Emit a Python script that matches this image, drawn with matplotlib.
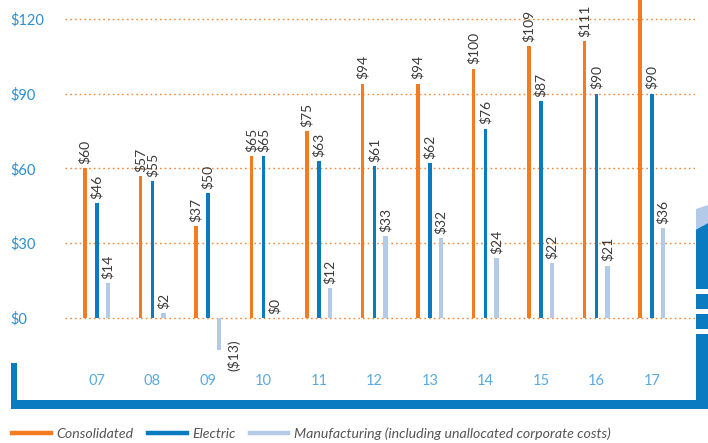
import matplotlib
matplotlib.use("Agg")
import matplotlib.pyplot as plt
from matplotlib.lines import Line2D
from matplotlib.patches import Rectangle, Polygon
import numpy as np

years = ["07", "08", "09", "10", "11", "12", "13", "14", "15", "16", "17"]
consolidated = [60, 57, 37, 65, 75, 94, 94, 100, 109, 111, 136]
electric = [46, 55, 50, 65, 63, 61, 62, 76, 87, 90, 90]
manufacturing = [14, 2, -13, 0, 12, 33, 32, 24, 22, 21, 36]
yticks = [0, 30, 60, 90, 120]
ytick_labels = ["$0", "$30", "$60", "$90", "$120"]
series_names = ["Consolidated", "Electric",
                "Manufacturing (including unallocated corporate costs)"]

ORANGE = "#f47b20"
BLUE = "#0a7bc1"
LIGHT = "#b3cae8"
TXT = "#3a3a3a"
YLAB = "#2b8ed3"
XLAB = "#5aaae0"
FONT = "Lato"

W, H = 708, 443
fig = plt.figure(figsize=(W / 100, H / 100), dpi=100)

def fx(px):
    return px / W

def fy(py):
    return 1 - py / H

ax_left, ax_right, ax_top, ax_bot = 65, 695, 0, 370
ax = fig.add_axes([fx(ax_left), fy(ax_bot), fx(ax_right - ax_left), (ax_bot - ax_top) / H])

px_per_unit_y = 74.8 / 30.0
y0_px = 318
ax.set_ylim((y0_px - ax_bot) / px_per_unit_y, (y0_px - ax_top) / px_per_unit_y)
x0_px, dx_px = 97, 55.5
ax.set_xlim((ax_left - x0_px) / dx_px, (ax_right - x0_px) / dx_px)

x = np.arange(len(years))
offsets = [-12 / dx_px, 0, 11 / dx_px]
widths = [3.4 / dx_px, 3.4 / dx_px, 4.2 / dx_px]
colors = [ORANGE, BLUE, LIGHT]
data = [consolidated, electric, manufacturing]

for vals, off, w, c in zip(data, offsets, widths, colors):
    ax.bar(x + off, vals, width=w, color=c, zorder=3, linewidth=0)
    for xi, v in zip(x, vals):
        if v >= 0:
            ax.annotate(f"${v}", (xi + off, v), xytext=(0, 3), textcoords="offset points",
                        rotation=90, ha="center", va="bottom", fontsize=10,
                        color=TXT, family=FONT, annotation_clip=True)
        else:
            ax.annotate(f"(${-v})", (xi + off, v), xytext=(11, 8), textcoords="offset points",
                        rotation=90, ha="center", va="top", fontsize=10,
                        color=TXT, family=FONT)

for yv in yticks:
    ax.axhline(yv, color=ORANGE, lw=1.0, ls=(0, (1.2, 2.2)), zorder=1, alpha=0.9)

ax.set_yticks(yticks)
ax.set_yticklabels(ytick_labels, ha="left", fontsize=10.5, color=YLAB, family=FONT)
ax.tick_params(axis="y", length=0, pad=(ax_left - 10) * 0.72)
ax.set_xticks(x)
ax.set_xticklabels(years, fontsize=10.5, color=XLAB, family=FONT)
ax.tick_params(axis="x", length=0, pad=3)
for s in ax.spines.values():
    s.set_visible(False)

# decorative frame
def rect_px(x1, y1, x2, y2, color):
    fig.patches.append(Rectangle((fx(x1), fy(y2)), fx(x2 - x1), (y2 - y1) / H,
                                 transform=fig.transFigure, color=color, lw=0))

rect_px(11, 400, 708, 409, BLUE)
rect_px(11, 363, 17, 409, BLUE)
rect_px(696, 334, 708, 409, BLUE)
rect_px(696, 314, 708, 329, BLUE)
rect_px(696, 294, 708, 309, BLUE)
rect_px(696, 226, 708, 289, BLUE)
fig.patches.append(Polygon([(fx(696), fy(209)), (fx(708), fy(205)), (fx(708), fy(223)),
                            (fx(696), fy(230))], closed=True, transform=fig.transFigure,
                           color=LIGHT, lw=0))
fig.patches.append(Polygon([(fx(696), fy(230)), (fx(708), fy(223)), (fx(708), fy(227)),
                            (fx(696), fy(231))], closed=True, transform=fig.transFigure,
                           color=BLUE, lw=0))

handles = [Line2D([], [], color=c, lw=3.2) for c in colors]
leg = fig.legend(handles, series_names, loc="center left", bbox_to_anchor=(fx(12), fy(434)),
                 ncol=3, frameon=False, handlelength=2.75, handletextpad=0.38,
                 columnspacing=1.0, borderaxespad=0, borderpad=0,
                 prop={"family": FONT, "style": "italic", "size": 10.2})
for t in leg.get_texts():
    t.set_color("#555555")

fig.savefig("out.png", dpi=100)
